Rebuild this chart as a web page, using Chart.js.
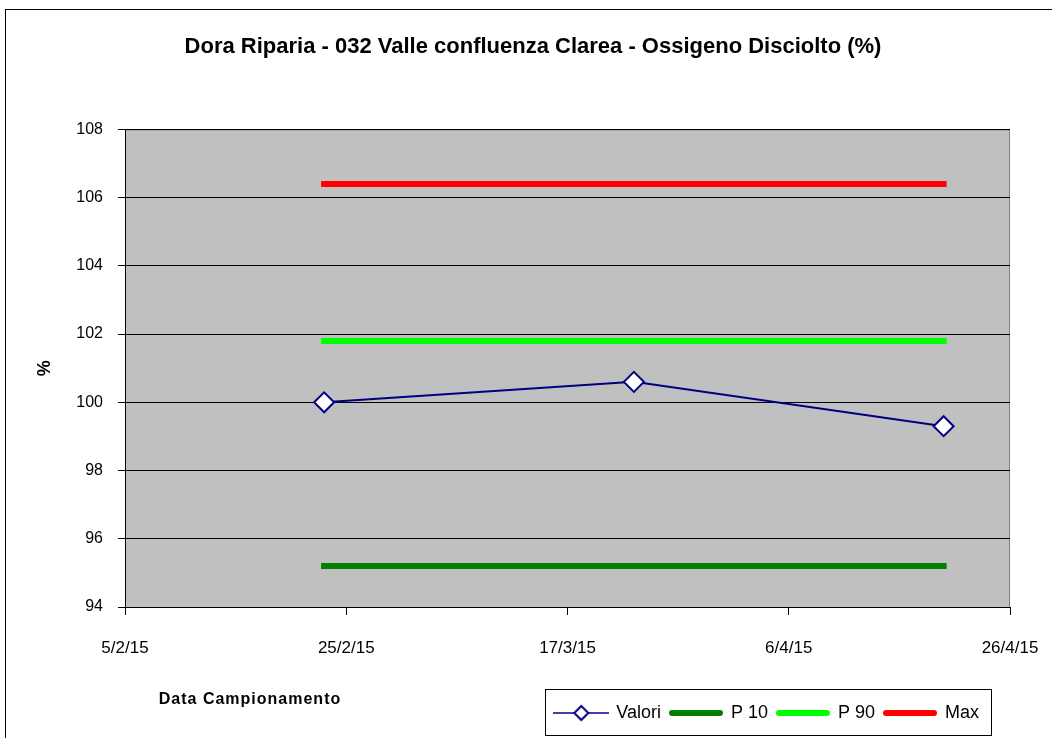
<!DOCTYPE html>
<html>
<head>
<meta charset="utf-8">
<script src="https://cdn.jsdelivr.net/npm/chart.js@4/dist/chart.umd.min.js"></script>
<style>
html, body { margin: 0; padding: 0; background: #fff; }
</style>
</head>
<body>
<canvas id="grafico" width="1052" height="738"></canvas>
<script>
// Date di campionamento e valori
const dateCampioni = ['23/2/15', '23/3/15', '20/4/15'];
const valori = [100.0, 100.6, 99.3];
const p10 = [95.2, 95.2, 95.2];
const p90 = [101.8, 101.8, 101.8];
const massimo = [106.4, 106.4, 106.4];
const tickDate = ['5/2/15', '25/2/15', '17/3/15', '6/4/15', '26/4/15'];
const tickY = [94, 96, 98, 100, 102, 104, 106, 108];
const titolo = 'Dora Riparia - 032 Valle confluenza Clarea - Ossigeno Disciolto (%)';
const titoloX = 'Data Campionamento';

const GIORNO = 86400000;
const toUTC = s => { const [d, m, y] = s.split('/').map(Number); return Date.UTC(2000 + y, m - 1, d); };
const base = toUTC(tickDate[0]);
const giorni = s => (toUTC(s) - base) / GIORNO;
const punti = arr => arr.map((v, i) => ({ x: giorni(dateCampioni[i]), y: v }));

Chart.defaults.font.family = 'Arial, "Liberation Sans", sans-serif';
Chart.defaults.color = '#000';

// campioni della legenda (linea + eventuale rombo)
function campione(colore, spessore, rombo) {
  const c = document.createElement('canvas');
  c.width = 56; c.height = 22;
  const g = c.getContext('2d');
  g.strokeStyle = colore;
  g.lineWidth = spessore;
  g.lineCap = rombo ? 'butt' : 'round';
  g.beginPath();
  g.moveTo(rombo ? 0 : 4, 11);
  g.lineTo(rombo ? 56 : 52, 11);
  g.stroke();
  if (rombo) {
    g.beginPath();
    g.moveTo(28, 4); g.lineTo(35, 11); g.lineTo(28, 18); g.lineTo(21, 11); g.closePath();
    g.fillStyle = '#fff'; g.fill();
    g.lineWidth = 2; g.stroke();
  }
  return c;
}
const campioni = [
  campione('#000080', 1.5, true),
  campione('#008000', 6, false),
  campione('#00ff00', 6, false),
  campione('#ff0000', 6, false)
];

const cornice = {
  id: 'cornice',
  afterLayout(chart) {
    chart.legend.right -= 22;
    chart.titleBlock.left += 13;
    chart.titleBlock.right += 13;
  },
  beforeDraw(chart) {
    const { ctx, chartArea: a } = chart;
    ctx.save();
    ctx.fillStyle = '#fff';
    ctx.fillRect(0, 0, chart.width, chart.height);
    ctx.strokeStyle = '#000';
    ctx.lineWidth = 1;
    ctx.strokeRect(5.5, 9.5, chart.width, chart.height);
    ctx.fillStyle = '#c0c0c0';
    ctx.fillRect(a.left, a.top, a.width, a.height);
    ctx.strokeStyle = '#808080';
    ctx.strokeRect(a.left + 0.5, a.top + 0.5, a.width - 1, a.height);
    ctx.restore();
  },
  afterDraw(chart) {
    const { ctx, chartArea: a } = chart;
    const hb = chart.legend.legendHitBoxes;
    const primo = hb[0], ultimo = hb[hb.length - 1];
    ctx.save();
    ctx.strokeStyle = '#000';
    ctx.lineWidth = 1;
    ctx.strokeRect(Math.round(primo.left) - 9.5, Math.round(primo.top) - 14.5,
      Math.round(ultimo.left + ultimo.width - primo.left) + 22, 46);
    ctx.font = 'bold 16px Arial, "Liberation Sans", sans-serif';
    ctx.letterSpacing = '1px';
    ctx.fillStyle = '#000';
    ctx.textAlign = 'center';
    ctx.textBaseline = 'middle';
    ctx.fillText(titoloX, a.left + 125, 700);
    ctx.restore();
  }
};

new Chart(document.getElementById('grafico'), {
  type: 'line',
  data: {
    datasets: [
      { label: 'Valori', data: punti(valori), borderColor: '#000080', borderWidth: 2,
        pointStyle: 'rectRot', pointRadius: 10, pointBackgroundColor: '#fff',
        pointBorderColor: '#000080', pointBorderWidth: 2 },
      { label: 'P 10', data: punti(p10), borderColor: '#008000', borderWidth: 6, pointRadius: 0, borderCapStyle: 'square' },
      { label: 'P 90', data: punti(p90), borderColor: '#00ff00', borderWidth: 6, pointRadius: 0, borderCapStyle: 'square' },
      { label: 'Max', data: punti(massimo), borderColor: '#ff0000', borderWidth: 6, pointRadius: 0, borderCapStyle: 'square' }
    ]
  },
  options: {
    responsive: false,
    animation: false,
    devicePixelRatio: 1,
    events: [],
    layout: { padding: { left: 30, right: 42, top: 0, bottom: 6 } },
    plugins: {
      title: { display: true, text: titolo, color: '#000',
        font: { size: 22, weight: 'bold' }, padding: { top: 34, bottom: 69 } },
      tooltip: { enabled: false },
      legend: {
        position: 'bottom', align: 'end',
        labels: {
          usePointStyle: true, pointStyleWidth: 52, boxHeight: 18, padding: 9,
          font: { size: 18 }, color: '#000',
          generateLabels: chart => Chart.defaults.plugins.legend.labels.generateLabels(chart)
            .map((l, i) => ({ ...l, pointStyle: campioni[i] }))
        }
      }
    },
    scales: {
      x: {
        type: 'linear',
        min: giorni(tickDate[0]),
        max: giorni(tickDate[tickDate.length - 1]),
        afterBuildTicks: s => { s.ticks = tickDate.map(d => ({ value: giorni(d) })); },
        afterFit: s => { s.height = 88; s.paddingRight = 30; s.paddingLeft = 0; },
        ticks: { callback: (v, i) => tickDate[i], font: { size: 17 }, color: '#000',
          padding: 23, maxRotation: 0, autoSkip: false },
        grid: { drawOnChartArea: false, color: '#000', tickLength: 8 },
        border: { color: '#000' }
      },
      y: {
        min: tickY[0],
        max: tickY[tickY.length - 1],
        afterBuildTicks: s => { s.ticks = tickY.map(v => ({ value: v })); },
        afterFit: s => { s.width = 95; },
        ticks: { font: { size: 16 }, color: '#000', padding: 15 },
        grid: { color: '#000', tickLength: 7 },
        border: { color: '#000' },
        title: { display: true, text: '%', color: '#000',
          font: { size: 18, weight: 'bold' }, padding: { top: 4, bottom: 0 } }
      }
    }
  },
  plugins: [cornice]
});
</script>
</body>
</html>
